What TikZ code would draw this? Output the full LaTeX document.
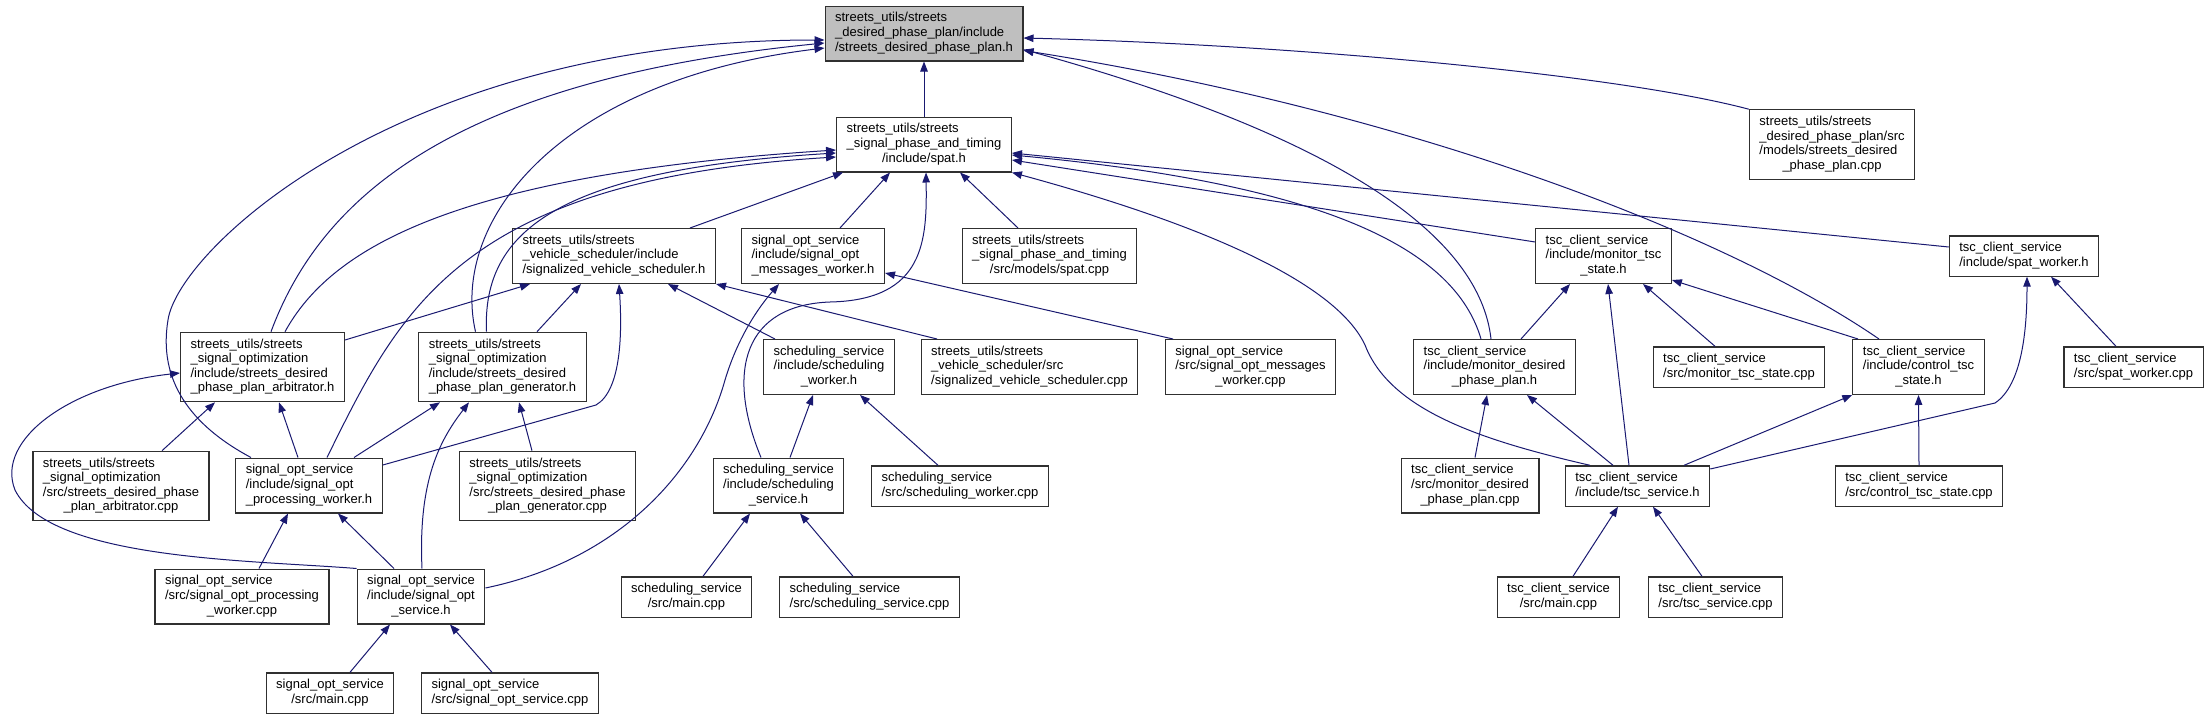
\documentclass[tikz,border=0pt]{standalone}
\usepackage{fontspec}
\setmainfont{Liberation Sans}
\usepackage{tikz}
\usetikzlibrary{arrows.meta}

\definecolor{edgeblue}{HTML}{191970}
\definecolor{rootgray}{HTML}{BFBFBF}
\definecolor{boxline}{HTML}{303030}

% lines left aligned, last line centred
\newcommand{\flbl}[2]{\begin{tabular}{@{}l@{}}#1\multicolumn{1}{@{}c@{}}{#2}\end{tabular}}

\begin{document}
\begin{tikzpicture}[x=1pt, y=-1pt,
    file/.style={draw=boxline, line width=1.2pt, fill=white, inner xsep=10pt, inner ysep=5.5pt,
        font=\fontsize{13}{14.6}\selectfont},
    edge/.style={draw=edgeblue, line width=1pt, -{Triangle[length=10pt, width=7.5pt]}}]
    \useasboundingbox (0,0) rectangle (2210,720);

    % Included header and spat
    \node[file, fill=rootgray] (root) at (924,33.5) {\flbl{streets\_utils/streets\\ \_desired\_phase\_plan/include\\}{/streets\_desired\_phase\_plan.h}};
    \node[file] (spath) at (924,144.5) {\flbl{streets\_utils/streets\\ \_signal\_phase\_and\_timing\\}{/include/spat.h}};
    \node[file] (dppcpp) at (1832,144.5) {\flbl{streets\_utils/streets\\ \_desired\_phase\_plan/src\\ /models/streets\_desired\\}{\_phase\_plan.cpp}};

    % Third row
    \node[file] (svsh) at (614,256) {\flbl{streets\_utils/streets\\ \_vehicle\_scheduler/include\\}{/signalized\_vehicle\_scheduler.h}};
    \node[file] (msgwh) at (813,256) {\flbl{signal\_opt\_service\\ /include/signal\_opt\\}{\_messages\_worker.h}};
    \node[file] (spatcpp) at (1049.5,256) {\flbl{streets\_utils/streets\\ \_signal\_phase\_and\_timing\\}{/src/models/spat.cpp}};
    \node[file] (mtsh) at (1603.5,256) {\flbl{tsc\_client\_service\\ /include/monitor\_tsc\\}{\_state.h}};
    \node[file] (spwh) at (2024,256) {\flbl{tsc\_client\_service\\}{/include/spat\_worker.h}};

    % Fourth row
    \node[file] (arbh) at (262.5,367) {\flbl{streets\_utils/streets\\ \_signal\_optimization\\ /include/streets\_desired\\}{\_phase\_plan\_arbitrator.h}};
    \node[file] (genh) at (502.5,367) {\flbl{streets\_utils/streets\\ \_signal\_optimization\\ /include/streets\_desired\\}{\_phase\_plan\_generator.h}};
    \node[file] (schwh) at (829,367) {\flbl{scheduling\_service\\ /include/scheduling\\}{\_worker.h}};
    \node[file] (svscpp) at (1029.5,367) {\flbl{streets\_utils/streets\\ \_vehicle\_scheduler/src\\}{/signalized\_vehicle\_scheduler.cpp}};
    \node[file] (msgwcpp) at (1250.5,367) {\flbl{signal\_opt\_service\\ /src/signal\_opt\_messages\\}{\_worker.cpp}};
    \node[file] (mdpph) at (1494.5,367) {\flbl{tsc\_client\_service\\ /include/monitor\_desired\\}{\_phase\_plan.h}};
    \node[file] (mtscpp) at (1739,367) {\flbl{tsc\_client\_service\\}{/src/monitor\_tsc\_state.cpp}};
    \node[file] (ctsh) at (1918.5,367) {\flbl{tsc\_client\_service\\ /include/control\_tsc\\}{\_state.h}};
    \node[file] (spwcpp) at (2133.5,367) {\flbl{tsc\_client\_service\\}{/src/spat\_worker.cpp}};

    % Fifth row
    \node[file] (arbcpp) at (121,486) {\flbl{streets\_utils/streets\\ \_signal\_optimization\\ /src/streets\_desired\_phase\\}{\_plan\_arbitrator.cpp}};
    \node[file] (pwh) at (309,485.5) {\flbl{signal\_opt\_service\\ /include/signal\_opt\\}{\_processing\_worker.h}};
    \node[file] (gencpp) at (547.5,486) {\flbl{streets\_utils/streets\\ \_signal\_optimization\\ /src/streets\_desired\_phase\\}{\_plan\_generator.cpp}};
    \node[file] (schsh) at (778.5,485.5) {\flbl{scheduling\_service\\ /include/scheduling\\}{\_service.h}};
    \node[file] (schwcpp) at (960,486) {\flbl{scheduling\_service\\}{/src/scheduling\_worker.cpp}};
    \node[file] (mdppcpp) at (1470,485.5) {\flbl{tsc\_client\_service\\ /src/monitor\_desired\\}{\_phase\_plan.cpp}};
    \node[file] (tsch) at (1637.5,486) {\flbl{tsc\_client\_service\\}{/include/tsc\_service.h}};
    \node[file] (ctscpp) at (1919,486) {\flbl{tsc\_client\_service\\}{/src/control\_tsc\_state.cpp}};

    % Sixth and seventh rows
    \node[file] (pwcpp) at (242,596.5) {\flbl{signal\_opt\_service\\ /src/signal\_opt\_processing\\}{\_worker.cpp}};
    \node[file] (sosh) at (421,596.5) {\flbl{signal\_opt\_service\\ /include/signal\_opt\\}{\_service.h}};
    \node[file] (schmcpp) at (686.5,597) {\flbl{scheduling\_service\\}{/src/main.cpp}};
    \node[file] (schscpp) at (869.5,597) {\flbl{scheduling\_service\\}{/src/scheduling\_service.cpp}};
    \node[file] (tscmcpp) at (1558.5,597) {\flbl{tsc\_client\_service\\}{/src/main.cpp}};
    \node[file] (tscscpp) at (1715.5,597) {\flbl{tsc\_client\_service\\}{/src/tsc\_service.cpp}};
    \node[file] (somcpp) at (330,693) {\flbl{signal\_opt\_service\\}{/src/main.cpp}};
    \node[file] (soscpp) at (510,693) {\flbl{signal\_opt\_service\\}{/src/signal\_opt\_service.cpp}};

    % Edges into the desired phase plan header
    \draw[edge] (spath.north) -- (root.south);
    \draw[edge] (dppcpp.north west) .. controls (1620,75) and (1300,45) .. ([yshift=-4.5pt]root.east);
    \draw[edge] ([xshift=-3.5pt]mdpph.north) .. controls (1480,240) and (1350,140) .. ([yshift=-16pt]root.east);
    \draw[edge] ([xshift=-39.5pt]ctsh.north) .. controls (1720,230) and (1400,110) .. ([yshift=-17pt]root.east);
    \draw[edge] ([xshift=8.5pt]arbh.north) .. controls (320,200) and (450,80) .. ([yshift=-9.5pt]root.west);
    \draw[edge] ([xshift=-27pt]genh.north) .. controls (450,220) and (560,80) .. ([yshift=-14.5pt]root.west);
    \draw[edge] ([xshift=-58pt]pwh.north) .. controls (190,425) and (158,380) .. (168,320)
        .. controls (178,250) and (400,40) .. ([yshift=-6.5pt]root.west);

    % Edges into spat.h
    \draw[edge] ([xshift=22.5pt]arbh.north) .. controls (330,250) and (450,175) .. ([yshift=-5.5pt]spath.west);
    \draw[edge] ([xshift=-16pt]genh.north) .. controls (482,230) and (560,170) .. ([yshift=-8.5pt]spath.west);
    \draw[edge] ([xshift=18pt]pwh.north) .. controls (400,310) and (460,180) .. ([yshift=-12.5pt]spath.west);
    \draw[edge] ([xshift=76pt]svsh.north) -- ([xshift=-81pt]spath.south);
    \draw[edge] ([xshift=27pt]msgwh.north) -- ([xshift=-34pt]spath.south);
    \draw[edge] ([xshift=-31.5pt]spatcpp.north) -- ([xshift=36pt]spath.south);
    \draw[edge] ([xshift=-17.5pt]schsh.north) .. controls (725,370) and (745,305) .. (830,302)
        .. controls (925,300) and (927,240) .. ([xshift=2pt]spath.south);
    \draw[edge] ([xshift=-47.5pt]tsch.north) .. controls (1480,440) and (1390,410) .. (1365,345)
        .. controls (1330,270) and (1150,210) .. (spath.south east);
    \draw[edge] ([yshift=14pt]mtsh.west) -- ([yshift=-15.5pt]spath.east);
    \draw[edge] ([yshift=9pt]spwh.west) -- ([yshift=-8.5pt]spath.east);
    \draw[edge] ([xshift=-13.5pt]mdpph.north) .. controls (1455,250) and (1330,185) .. ([yshift=-10.5pt]spath.east);

    % Edges into the vehicle scheduler header
    \draw[edge] ([yshift=27pt]arbh.east) -- ([xshift=-84pt]svsh.south);
    \draw[edge] ([xshift=34.5pt]genh.north) -- ([xshift=-33pt]svsh.south);
    \draw[edge] ([yshift=20.5pt]pwh.east) -- (596,405) .. controls (622,390) and (622,330) .. ([xshift=5pt]svsh.south);
    \draw[edge] ([xshift=-54pt]schwh.north) -- ([xshift=54pt]svsh.south);
    \draw[edge] ([xshift=-92.5pt]svscpp.north) -- (svsh.south east);

    % Edges into the messages worker
    \draw[edge] ([yshift=8.5pt]sosh.east) .. controls (620,560) and (700,470) .. (725,380)
        .. controls (740,330) and (765,300) .. ([xshift=-34pt]msgwh.south);
    \draw[edge] ([xshift=-77.5pt]msgwcpp.north) -- ([yshift=-17pt]msgwh.east);

    % tsc client service
    \draw[edge] ([xshift=26.5pt]mdpph.north) -- ([xshift=-33.5pt]mtsh.south);
    \draw[edge] ([xshift=-8.5pt]tsch.north) -- ([xshift=4.5pt]mtsh.south);
    \draw[edge] ([xshift=-24pt]mtscpp.north) -- ([xshift=39.5pt]mtsh.south);
    \draw[edge] ([xshift=-60.5pt]ctsh.north) -- ([yshift=-24pt]mtsh.east);
    \draw[edge] ([yshift=17pt]tsch.east) -- (1995,403) .. controls (2022,385) and (2027,330) .. ([xshift=3pt]spwh.south);
    \draw[edge] ([xshift=-17.5pt]spwcpp.north) -- ([xshift=27pt]spwh.south);
    \draw[edge] ([xshift=5pt]mdppcpp.north) -- ([xshift=-7.5pt]mdpph.south);
    \draw[edge] ([xshift=-24.5pt]tsch.north) -- ([xshift=32.5pt]mdpph.south);
    \draw[edge] ([xshift=46.5pt]tsch.north) -- (ctsh.south west);
    \draw[edge] (ctscpp.north) -- (ctsh.south);
    \draw[edge] ([xshift=14.5pt]tscmcpp.north) -- ([xshift=-19.5pt]tsch.south);
    \draw[edge] ([xshift=-13.5pt]tscscpp.north) -- ([xshift=15.5pt]tsch.south);

    % scheduling service
    \draw[edge] ([xshift=11.5pt]schsh.north) -- ([xshift=-16pt]schwh.south);
    \draw[edge] ([xshift=-22pt]schwcpp.north) -- ([xshift=31pt]schwh.south);
    \draw[edge] ([xshift=16.5pt]schmcpp.north) -- ([xshift=-28.5pt]schsh.south);
    \draw[edge] ([xshift=-16.5pt]schscpp.north) -- ([xshift=21.5pt]schsh.south);

    % signal optimization
    \draw[edge] ([xshift=41pt]arbcpp.north) -- ([xshift=-47.5pt]arbh.south);
    \draw[edge] ([xshift=-11pt]pwh.north) -- ([xshift=16.5pt]arbh.south);
    \draw[edge] (sosh.north west) .. controls (250,560) and (50,560) .. (15,490)
        .. controls (-5,440) and (70,385) .. ([yshift=-6pt]arbh.west);
    \draw[edge] ([xshift=-15.5pt]gencpp.north) -- ([xshift=16.5pt]genh.south);
    \draw[edge] ([xshift=45pt]pwh.north) -- ([xshift=-62.5pt]genh.south);
    \draw[edge] ([xshift=1pt]sosh.north) .. controls (418,480) and (440,440) .. ([xshift=-33.5pt]genh.south);
    \draw[edge] ([xshift=17pt]pwcpp.north) -- ([xshift=-21pt]pwh.south);
    \draw[edge] ([xshift=-27pt]sosh.north) -- ([xshift=29pt]pwh.south);
    \draw[edge] ([xshift=20pt]somcpp.north) -- ([xshift=-31pt]sosh.south);
    \draw[edge] ([xshift=-18pt]soscpp.north) -- ([xshift=29pt]sosh.south);
\end{tikzpicture}
\end{document}
